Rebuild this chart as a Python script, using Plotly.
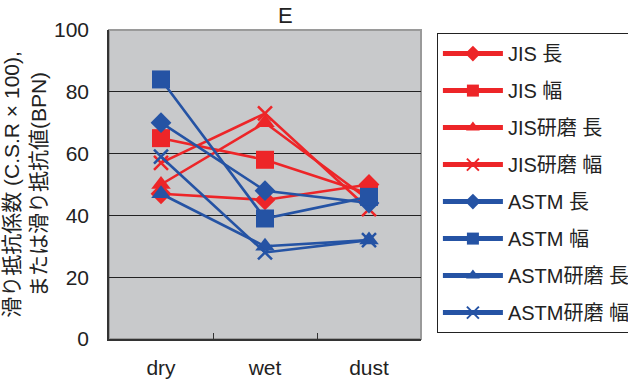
import plotly.graph_objects as go

# Surface conditions on the x axis
conditions = ["dry", "wet", "dust"]

# Slip resistance values per test method / direction
jis_long = [47, 45, 50]
jis_width = [65, 58, 47]
jis_polished_long = [50, 70, 45]
jis_polished_width = [57, 73, 42]
astm_long = [70, 48, 44]
astm_width = [84, 39, 46]
astm_polished_long = [47, 30, 32]
astm_polished_width = [59, 28, 32]

series_names = ["JIS 長", "JIS 幅", "JIS研磨 長", "JIS研磨 幅",
                "ASTM 長", "ASTM 幅", "ASTM研磨 長", "ASTM研磨 幅"]
series_values = [jis_long, jis_width, jis_polished_long, jis_polished_width,
                 astm_long, astm_width, astm_polished_long, astm_polished_width]

RED = "#ED2528"
BLUE = "#2553A4"
colors = [RED] * 4 + [BLUE] * 4
symbols = ["diamond", "square", "triangle-up", "x-thin"] * 2
sizes = [16, 18, 17, 14] * 2

FONT = "Liberation Sans, Arial, Noto Sans CJK JP, sans-serif"

fig = go.Figure()
for i, (name, vals) in enumerate(zip(series_names, series_values)):
    sym = symbols[i]
    marker = dict(symbol=sym, size=sizes[i], color=colors[i])
    if sym == "x-thin":
        marker["line"] = dict(width=2.5, color=colors[i])
    fig.add_trace(go.Scatter(
        x=conditions, y=vals, name=name, mode="lines+markers",
        line=dict(color=colors[i], width=2.6),
        marker=marker,
        legendgroup=f"g{i}",
    ))

fig.update_layout(
    width=628, height=383,
    margin=dict(l=109, r=207, t=30, b=44, autoexpand=False),
    paper_bgcolor="white",
    plot_bgcolor="#C8C9CB",
    font=dict(family=FONT, size=19, color="#222222"),
    showlegend=True,
    legend=dict(
        x=1.051, y=0.99, xanchor="left", yanchor="top",
        bgcolor="white", bordercolor="#222222", borderwidth=1,
        font=dict(family=FONT, size=20, color="#222222"),
        itemsizing="constant", itemwidth=60, tracegroupgap=8, maxheight=383,
    ),
    xaxis=dict(
        type="category", range=[-0.5, 2.5], automargin=False,
        showline=True, linecolor="#333333", linewidth=1.5,
        ticks="inside", tickson="boundaries", ticklen=6, tickcolor="#333333",
        showgrid=False, ticklabelstandoff=9,
        tickfont=dict(size=21),
    ),
    yaxis=dict(
        range=[0, 100], tickvals=[0, 20, 40, 60, 80, 100], automargin=False,
        showline=True, linecolor="#333333", linewidth=1.5,
        showgrid=True, gridcolor="#222222", gridwidth=1,
        zeroline=False, ticks="", ticklabelstandoff=14,
        tickfont=dict(size=21),
        title=dict(text="滑り抵抗係数 (C.S.R × 100),<br>または滑り抵抗値(BPN)",
                   font=dict(size=21), standoff=6),
    ),
    annotations=[dict(text="E", x=0.565, y=1.0, xref="paper", yref="paper",
                      xanchor="center", yanchor="bottom", showarrow=False,
                      font=dict(size=22), yshift=0)],
    shapes=[dict(type="rect", xref="paper", yref="paper", x0=0, y0=0, x1=1, y1=1,
                 line=dict(color="#9A9A9A", width=2), layer="below")],
)

fig.write_html("out.html")
